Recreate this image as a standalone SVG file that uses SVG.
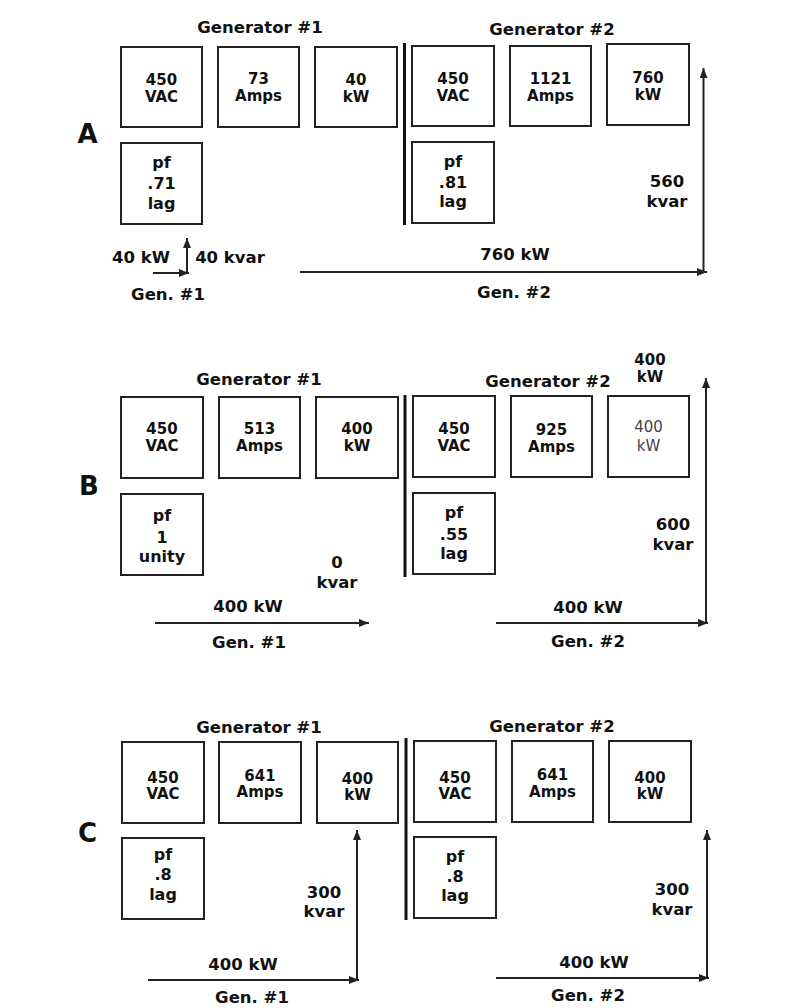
<svg xmlns="http://www.w3.org/2000/svg" width="800" height="1008" viewBox="0 0 800 1008">
<style>
text{font-family:"DejaVu Sans","Liberation Sans",sans-serif;font-weight:bold;fill:#111;text-anchor:middle}
.lbl{font-size:16.5px}
.bx{font-size:15px}
.pf{font-size:16px}
.sec{font-size:26px}
.thin{font-weight:normal;fill:#444}
rect{fill:#fff;stroke:#222;stroke-width:2}
.div{stroke:#111;stroke-width:3}
.con path{fill:none;stroke:#222;stroke-width:2}
</style>
<defs>
<marker id="ah" viewBox="0 0 10 8" refX="10" refY="4" markerWidth="10" markerHeight="8" markerUnits="userSpaceOnUse" orient="auto"><path d="M0,0 L10,4 L0,8 z" fill="#222"/></marker>
</defs>
<rect x="0" y="0" width="800" height="1008" style="fill:#fff;stroke:none"/>

<!-- Section A -->
<g id="A">
<text class="sec" x="87.5" y="143">A</text>
<text class="lbl" x="260" y="33">Generator #1</text>
<text class="lbl" x="552" y="35">Generator #2</text>
<line class="div" x1="404.5" y1="43" x2="404.5" y2="225"/>
<g id="A-g1-v"><rect x="121" y="47" width="81" height="80"/><text class="bx" x="161.5" y="85">450</text><text class="bx" x="161.5" y="102">VAC</text></g>
<g id="A-g1-a"><rect x="218" y="47" width="81" height="80"/><text class="bx" x="258.5" y="84">73</text><text class="bx" x="258.5" y="101">Amps</text></g>
<g id="A-g1-k"><rect x="315" y="47" width="82" height="80"/><text class="bx" x="356" y="85">40</text><text class="bx" x="356" y="102">kW</text></g>
<g id="A-g1-pf"><rect x="121" y="143" width="81" height="81"/><text class="pf" x="161.5" y="168">pf</text><text class="pf" x="161.5" y="189">.71</text><text class="pf" x="161.5" y="209">lag</text></g>
<g id="A-g2-v"><rect x="412" y="46" width="82" height="80"/><text class="bx" x="453" y="84">450</text><text class="bx" x="453" y="101">VAC</text></g>
<g id="A-g2-a"><rect x="510" y="46" width="81" height="80"/><text class="bx" x="550.5" y="84">1121</text><text class="bx" x="550.5" y="101">Amps</text></g>
<g id="A-g2-k"><rect x="607" y="44" width="82" height="81"/><text class="bx" x="648" y="83">760</text><text class="bx" x="648" y="100">kW</text></g>
<g id="A-g2-pf"><rect x="412" y="142" width="82" height="81"/><text class="pf" x="453" y="167">pf</text><text class="pf" x="453" y="188">.81</text><text class="pf" x="453" y="207">lag</text></g>
<text class="lbl" x="141" y="263">40 kW</text>
<text class="lbl" x="230" y="263">40 kvar</text>
<text class="lbl" x="168" y="300">Gen. #1</text>
<text class="lbl" x="515" y="260">760 kW</text>
<text class="lbl" x="514" y="298">Gen. #2</text>
<text class="lbl" x="667" y="187">560</text>
<text class="lbl" x="667" y="207">kvar</text>
</g>

<!-- Section B -->
<g id="B">
<text class="sec" x="89" y="495">B</text>
<text class="lbl" x="259" y="385">Generator #1</text>
<text class="lbl" x="548" y="387">Generator #2</text>
<text class="bx" x="650" y="365">400</text>
<text class="bx" x="650" y="382">kW</text>
<line class="div" x1="405" y1="395" x2="405" y2="577"/>
<g id="B-g1-v"><rect x="121" y="397" width="82" height="81"/><text class="bx" x="162" y="434">450</text><text class="bx" x="162" y="451">VAC</text></g>
<g id="B-g1-a"><rect x="219" y="397" width="81" height="81"/><text class="bx" x="259.5" y="434">513</text><text class="bx" x="259.5" y="451">Amps</text></g>
<g id="B-g1-k"><rect x="316" y="397" width="82" height="81"/><text class="bx" x="357" y="434">400</text><text class="bx" x="357" y="451">kW</text></g>
<g id="B-g1-pf"><rect x="121" y="494" width="82" height="81"/><text class="pf" x="162" y="521">pf</text><text class="pf" x="162" y="543">1</text><text class="pf" x="162" y="562">unity</text></g>
<g id="B-g2-v"><rect x="413" y="396" width="82" height="81"/><text class="bx" x="454" y="434">450</text><text class="bx" x="454" y="451">VAC</text></g>
<g id="B-g2-a"><rect x="511" y="396" width="81" height="81"/><text class="bx" x="551.5" y="435">925</text><text class="bx" x="551.5" y="452">Amps</text></g>
<g id="B-g2-k"><rect x="608" y="396" width="81" height="81"/><text class="bx thin" x="648.5" y="432">400</text><text class="bx thin" x="648.5" y="451">kW</text></g>
<g id="B-g2-pf"><rect x="413" y="493" width="82" height="81"/><text class="pf" x="454" y="518">pf</text><text class="pf" x="454" y="540">.55</text><text class="pf" x="454" y="559">lag</text></g>
<text class="lbl" x="337" y="568">0</text>
<text class="lbl" x="337" y="588">kvar</text>
<text class="lbl" x="248" y="612">400 kW</text>
<text class="lbl" x="249" y="648">Gen. #1</text>
<text class="lbl" x="673" y="530">600</text>
<text class="lbl" x="673" y="550">kvar</text>
<text class="lbl" x="588" y="613">400 kW</text>
<text class="lbl" x="588" y="647">Gen. #2</text>
</g>

<!-- Section C -->
<g id="C">
<text class="sec" x="87.5" y="842">C</text>
<text class="lbl" x="259" y="733">Generator #1</text>
<text class="lbl" x="552" y="732">Generator #2</text>
<line class="div" x1="406" y1="738" x2="406" y2="920"/>
<g id="C-g1-v"><rect x="122" y="742" width="82" height="81"/><text class="bx" x="163" y="783">450</text><text class="bx" x="163" y="799">VAC</text></g>
<g id="C-g1-a"><rect x="219" y="742" width="82" height="81"/><text class="bx" x="260" y="781">641</text><text class="bx" x="260" y="797">Amps</text></g>
<g id="C-g1-k"><rect x="317" y="742" width="81" height="81"/><text class="bx" x="357.5" y="784">400</text><text class="bx" x="357.5" y="800">kW</text></g>
<g id="C-g1-pf"><rect x="122" y="838" width="82" height="81"/><text class="pf" x="163" y="860">pf</text><text class="pf" x="163" y="880">.8</text><text class="pf" x="163" y="900">lag</text></g>
<g id="C-g2-v"><rect x="414" y="741" width="82" height="81"/><text class="bx" x="455" y="783">450</text><text class="bx" x="455" y="799">VAC</text></g>
<g id="C-g2-a"><rect x="512" y="741" width="81" height="81"/><text class="bx" x="552.5" y="780">641</text><text class="bx" x="552.5" y="797">Amps</text></g>
<g id="C-g2-k"><rect x="609" y="741" width="82" height="81"/><text class="bx" x="650" y="783">400</text><text class="bx" x="650" y="799">kW</text></g>
<g id="C-g2-pf"><rect x="414" y="837" width="82" height="81"/><text class="pf" x="455" y="862">pf</text><text class="pf" x="455" y="882">.8</text><text class="pf" x="455" y="901">lag</text></g>
<text class="lbl" x="324" y="898">300</text>
<text class="lbl" x="324" y="917">kvar</text>
<text class="lbl" x="243" y="970">400 kW</text>
<text class="lbl" x="252" y="1003">Gen. #1</text>
<text class="lbl" x="672" y="895">300</text>
<text class="lbl" x="672" y="915">kvar</text>
<text class="lbl" x="594" y="968">400 kW</text>
<text class="lbl" x="588" y="1001">Gen. #2</text>
</g>

<!-- Connectors (power vectors) -->
<g id="connectors" class="con">
<path d="M153,273 H189" marker-end="url(#ah)"/>
<path d="M187,274 V238" marker-end="url(#ah)"/>
<path d="M300,272 H707" marker-end="url(#ah)"/>
<path d="M703.5,273 V68" marker-end="url(#ah)"/>
<path d="M155,623 H369" marker-end="url(#ah)"/>
<path d="M496,623 H708" marker-end="url(#ah)"/>
<path d="M706,624 V378" marker-end="url(#ah)"/>
<path d="M148,980 H359" marker-end="url(#ah)"/>
<path d="M357,981 V830" marker-end="url(#ah)"/>
<path d="M496,978 H709" marker-end="url(#ah)"/>
<path d="M707,979 V830" marker-end="url(#ah)"/>
</g>
</svg>
